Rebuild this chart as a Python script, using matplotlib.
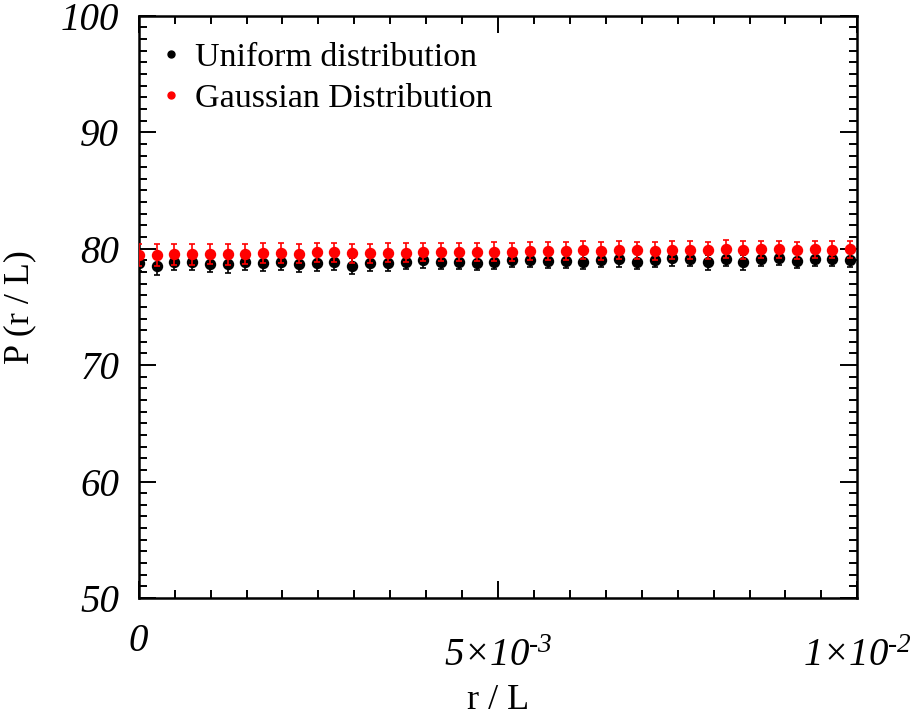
import numpy as np
import matplotlib
matplotlib.use("Agg")
import matplotlib.pyplot as plt
from matplotlib.lines import Line2D
from matplotlib.ticker import MultipleLocator, FixedLocator, FixedFormatter
from matplotlib.transforms import ScaledTranslation

plt.rcParams['font.family'] = ['Liberation Serif', 'DejaVu Serif']
# tick labels are italic throughout, so the math fonts are the italic face
plt.rcParams['mathtext.fontset'] = 'custom'
plt.rcParams['mathtext.rm'] = 'Liberation Serif:italic'
plt.rcParams['mathtext.it'] = 'Liberation Serif:italic'

# r / L positions of the points
r_vals = [0.0, 0.000248, 0.000495, 0.000743, 0.00099, 0.001238, 0.001485, 0.001733,
          0.00198, 0.002228, 0.002475, 0.002723, 0.00297, 0.003218, 0.003465, 0.003713,
          0.00396, 0.004208, 0.004455, 0.004703, 0.00495, 0.005198, 0.005445, 0.005693,
          0.00594, 0.006188, 0.006435, 0.006683, 0.00693, 0.007178, 0.007425, 0.007673,
          0.00792, 0.008168, 0.008415, 0.008663, 0.00891, 0.009158, 0.009405, 0.009653,
          0.0099]

uniform = [78.77, 78.50, 78.88, 78.88, 78.71, 78.65, 78.82, 78.80, 78.88, 78.71,
           78.80, 78.82, 78.50, 78.74, 78.74, 78.88, 79.00, 78.88, 78.88, 78.80,
           78.88, 79.05, 79.05, 78.94, 78.94, 78.88, 79.03, 79.08, 78.88, 79.05,
           79.17, 79.14, 78.82, 79.11, 78.82, 79.11, 79.23, 78.94, 79.14, 79.11,
           79.05]
uniform_err = [0.72, 0.72, 0.70, 0.70, 0.70, 0.70, 0.69, 0.69, 0.68, 0.68,
               0.68, 0.67, 0.67, 0.67, 0.66, 0.66, 0.66, 0.65, 0.65, 0.65,
               0.65, 0.64, 0.64, 0.64, 0.64, 0.63, 0.63, 0.63, 0.63, 0.63,
               0.62, 0.62, 0.62, 0.62, 0.62, 0.62, 0.61, 0.61, 0.61, 0.61,
               0.61]

gaussian = [79.45, 79.45, 79.50, 79.50, 79.54, 79.50, 79.57, 79.60, 79.60, 79.57,
            79.68, 79.68, 79.60, 79.60, 79.66, 79.66, 79.71, 79.71, 79.71, 79.71,
            79.74, 79.71, 79.80, 79.80, 79.80, 79.85, 79.80, 79.90, 79.85, 79.80,
            79.88, 79.88, 79.85, 79.97, 79.88, 79.94, 79.94, 79.88, 79.94, 79.90,
            79.94]
gaussian_err = [0.92, 0.91, 0.90, 0.89, 0.88, 0.87, 0.86, 0.86, 0.85, 0.84,
                0.84, 0.83, 0.83, 0.82, 0.82, 0.81, 0.81, 0.80, 0.80, 0.79,
                0.79, 0.78, 0.78, 0.78, 0.77, 0.77, 0.76, 0.76, 0.76, 0.75,
                0.75, 0.75, 0.74, 0.74, 0.74, 0.73, 0.73, 0.73, 0.72, 0.72,
                0.72]

labels = ["Uniform distribution", "Gaussian Distribution"]
colors = ["black", "red"]
x_ticks = [0, 0.005, 0.01]
# short hyphen in the exponent, like the original
x_ticklabels = ['$0$', '$5{\\times}10^{\u20103}$', '$1{\\times}10^{\u20102}$']

fig = plt.figure(figsize=(9.13, 7.17), dpi=100)
ax = fig.add_axes([0.152, 0.166, 0.787, 0.812])

ax.errorbar(r_vals, uniform, yerr=uniform_err, fmt='o', color=colors[0],
            markersize=7.2, elinewidth=1.2, capsize=2, capthick=1.2, zorder=3)
ax.errorbar(r_vals, gaussian, yerr=gaussian_err, fmt='o', color=colors[1],
            markersize=7.2, elinewidth=1.2, capsize=2, capthick=1.2, zorder=4)

ax.set_xlim(0, 0.01)
ax.set_ylim(50, 100)

ax.xaxis.set_major_locator(FixedLocator(x_ticks))
ax.xaxis.set_major_formatter(FixedFormatter(x_ticklabels))
ax.xaxis.set_minor_locator(MultipleLocator(0.0005))
ax.yaxis.set_major_locator(MultipleLocator(10))
ax.yaxis.set_minor_locator(MultipleLocator(1))

ax.tick_params(which='both', direction='in', top=True, right=True, width=1.4)
ax.tick_params(which='major', length=12, labelsize=28)
ax.tick_params(which='minor', length=6)
ax.tick_params(axis='y', which='major', pad=14)
ax.tick_params(axis='x', which='major', pad=18)
for s in ax.spines.values():
    s.set_linewidth(1.8)

for lab in ax.get_yticklabels():
    lab.set_fontstyle('italic')
# labels with exponents sit lower, as in the original
for lab in ax.get_xticklabels()[1:]:
    lab.set_transform(lab.get_transform() + ScaledTranslation(0, -0.15, fig.dpi_scale_trans))

ax.set_xlabel("r / L", fontsize=26)
ax.set_ylabel("P (r / L)", fontsize=26)
ax.xaxis.set_label_coords(0.5, -0.148)
ax.yaxis.set_label_coords(-0.142, 0.5)

handles = [Line2D([], [], marker='o', ls='', color=c, markersize=5) for c in colors]
ax.legend(handles, labels, loc='upper left', bbox_to_anchor=(0.0, 0.993), frameon=False,
          fontsize=24.5, handlelength=0.6, handletextpad=0.4, labelspacing=0.3,
          borderaxespad=0.25)

fig.savefig("out.png", dpi=100)
